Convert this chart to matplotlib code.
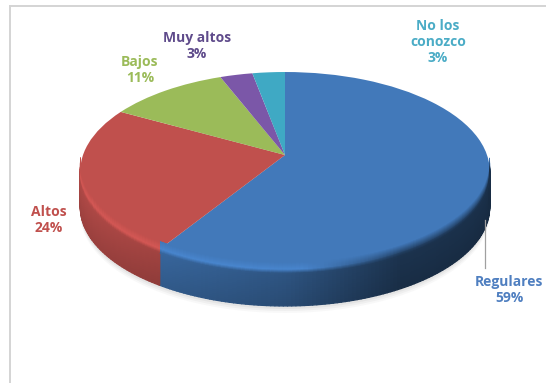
import numpy as np
import matplotlib
matplotlib.use('Agg')
import matplotlib.pyplot as plt
from matplotlib.collections import PolyCollection
from matplotlib.colors import to_rgb
from matplotlib.path import Path
from matplotlib.transforms import Transform

categorias = ['Regulares', 'Altos', 'Bajos', 'Muy altos', 'No los\nconozco']
valores = [59, 24, 11, 3, 3]
colores = ['#4279BA', '#C0504D', '#9BBB59', '#7B57A8', '#3FA9C4']
colores_texto = ['#4F7FC0', '#C0504D', '#9BBB59', '#5F4B8B', '#4BACC6']
pos_texto = [(509, 290), (49, 220), (140, 70), (197, 46), (438, 42)]

CX, CY = 285, 155
RX, RY = 202, 96.4
PERSP = 0.1616
GROSOR = 36


class Perspectiva(Transform):
    # lleva el circulo unidad al plano inclinado de la tarta, en pixeles
    input_dims = output_dims = 2

    def __init__(self, dy=0):
        super().__init__()
        self.dy = dy

    def transform_non_affine(self, pts):
        pts = np.asarray(pts, dtype=float)
        w = 1 + PERSP * pts[:, 1]
        return np.column_stack([CX + RX * pts[:, 0] / w,
                                CY + self.dy - RY * pts[:, 1] / w])

    def transform_path_non_affine(self, path):
        return Path(self.transform_non_affine(path.vertices), path.codes)


def punto(ang, dy=0):
    u, v = np.cos(np.radians(ang)), np.sin(np.radians(ang))
    return Perspectiva(dy).transform_non_affine(np.array([[u, v]]))[0]


def luz_lado(x):
    return np.interp(x, [80, 155, 285, 400, 489], [0.92, 0.85, 0.70, 0.42, 0.40])


fig = plt.figure(figsize=(5.46, 3.83), dpi=100)
ax = fig.add_axes([0, 0, 1, 1])

wedges, _ = ax.pie(valores, colors=colores, startangle=90, counterclock=False,
                   wedgeprops={'linewidth': 0})
ax.set_aspect('auto')
ax.set_xlim(0, 546)
ax.set_ylim(383, 0)
ax.axis('off')

# sombra suave debajo de la tarta
for dy, alfa in [(GROSOR + 7, 0.05), (GROSOR + 5, 0.07), (GROSOR + 3, 0.09)]:
    t = np.radians(np.arange(0, 360, 2))
    sombra = Perspectiva(dy).transform_non_affine(np.column_stack([np.cos(t), np.sin(t)]))
    ax.fill(sombra[:, 0], sombra[:, 1], color='#808080', alpha=alfa, lw=0, zorder=1)

# lateral de la tarta: tiras pequenas con la luz segun x y la profundidad
polis, cols = [], []
for w, c in zip(wedges, colores):
    base = np.array(to_rgb(c))
    angs = np.arange(w.theta1, w.theta2 + 1, 1.0)
    angs[-1] = w.theta2
    for a0, a1 in zip(angs[:-1], angs[1:]):
        if np.sin(np.radians(a0)) > -0.12 and np.sin(np.radians(a1)) > -0.12:
            continue
        for d in range(0, GROSOR, 2):
            p = [punto(a0, d), punto(a1, d), punto(a1, d + 2), punto(a0, d + 2)]
            f = luz_lado(p[0][0]) * (1 - 0.12 * d / GROSOR)
            polis.append(p)
            cols.append(np.clip(base * f, 0, 1))
ax.add_collection(PolyCollection(polis, facecolors=cols, edgecolors=cols,
                                 linewidths=0.9, zorder=2))

# cara superior
for w in wedges:
    w.set_transform(Perspectiva() + ax.transData)
    w.set_zorder(3)

# bisel del borde delantero
polis, cols = [], []
for w, c in zip(wedges, colores):
    base = np.array(to_rgb(c))
    angs = np.arange(w.theta1, w.theta2 + 1, 1.0)
    angs[-1] = w.theta2
    for a0, a1 in zip(angs[:-1], angs[1:]):
        if np.sin(np.radians(a0)) > -0.12 and np.sin(np.radians(a1)) > -0.12:
            continue
        for d in range(-8, 4):
            p = [punto(a0, d), punto(a1, d), punto(a1, d + 1), punto(a0, d + 1)]
            x = p[0][0]
            claro = np.interp(x, [80, 300, 400], [1.12, 1.12, 0.55])
            if d < 0:
                t = (d + 8) / 8
                col = base * (1 - t) + base * claro * t
            else:
                t = (d + 1) / 4
                col = base * claro * (1 - t) + base * luz_lado(x) * t
            polis.append(p)
            cols.append(np.clip(col, 0, 1))
ax.add_collection(PolyCollection(polis, facecolors=cols, edgecolors=cols,
                                 linewidths=0.5, zorder=4))

# marco del grafico
ax.plot([10, 10], [6, 383], color='#D4D4D4', lw=1.4, zorder=1)
ax.plot([10, 546], [6, 6], color='#D4D4D4', lw=1.4, zorder=1)

# linea guia de Regulares
ax.plot([485, 485], [220, 268], color='#A0A0A0', lw=0.9, zorder=5)

for nombre, val, col, (x, y) in zip(categorias, valores, colores_texto, pos_texto):
    ax.text(x, y, f'{nombre}\n{val}%', color=col, ha='center', va='center',
            family='Open Sans', fontweight='bold', fontsize=10, linespacing=1.2,
            zorder=6)

fig.savefig('out.png', dpi=100)
